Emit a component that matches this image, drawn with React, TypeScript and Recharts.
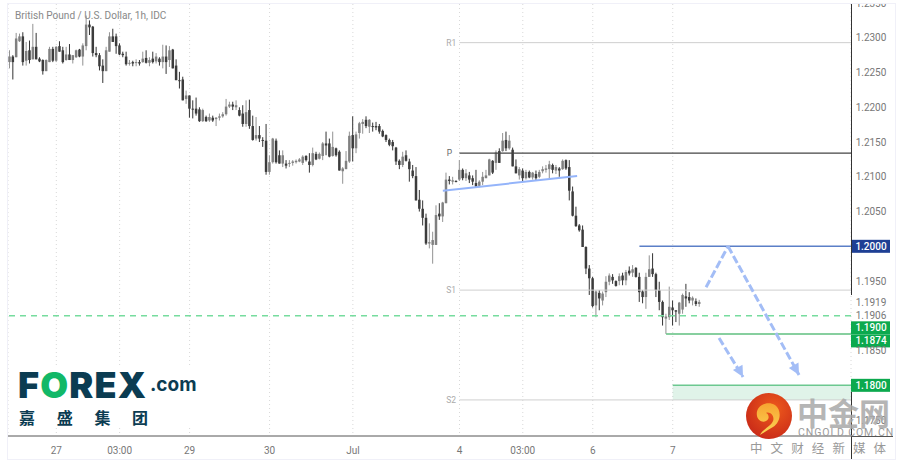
import React from "react";
import { ComposedChart, Bar, XAxis, YAxis, CartesianGrid, ReferenceLine, ReferenceArea, ReferenceDot } from "recharts";

const highs = [
  1.2282, 1.2275, 1.2307, 1.2306, 1.2308, 1.2294, 1.2296, 1.2320, 1.2307, 1.2272,
  1.2269, 1.2269, 1.2287, 1.2287, 1.2288, 1.2295, 1.2287, 1.2287, 1.2291, 1.2275,
  1.2283, 1.2284, 1.2292, 1.2332, 1.2325, 1.2317, 1.2287, 1.2278, 1.2269, 1.2287,
  1.2308, 1.2313, 1.2306, 1.2292, 1.2280, 1.2280, 1.2268, 1.2267, 1.2269, 1.2268,
  1.2280, 1.2282, 1.2272, 1.2280, 1.2278, 1.2272, 1.2290, 1.2289, 1.2288, 1.2284,
  1.2269, 1.2251, 1.2244, 1.2224, 1.2217, 1.2210, 1.2214, 1.2200, 1.2198, 1.2188,
  1.2191, 1.2188, 1.2186, 1.2191, 1.2193, 1.2212, 1.2208, 1.2208, 1.2210, 1.2200,
  1.2203, 1.2210, 1.2211, 1.2188, 1.2186, 1.2173, 1.2157, 1.2176, 1.2131, 1.2156,
  1.2155, 1.2138, 1.2138, 1.2124, 1.2124, 1.2124, 1.2125, 1.2127, 1.2131, 1.2131,
  1.2134, 1.2142, 1.2136, 1.2135, 1.2150, 1.2165, 1.2155, 1.2165, 1.2142, 1.2138,
  1.2114, 1.2137, 1.2165, 1.2187, 1.2165, 1.2179, 1.2183, 1.2187, 1.2183, 1.2178,
  1.2179, 1.2176, 1.2168, 1.2161, 1.2155, 1.2153, 1.2143, 1.2125, 1.2136, 1.2138,
  1.2126, 1.2117, 1.2114, 1.2081, 1.2066, 1.2047, 1.2033, 1.2021, 1.2059, 1.2062,
  1.2064, 1.2106, 1.2101, 1.2100, 1.2095, 1.2124, 1.2112, 1.2111, 1.2107, 1.2102,
  1.2110, 1.2095, 1.2107, 1.2110, 1.2126, 1.2124, 1.2138, 1.2141, 1.2163, 1.2165,
  1.2160, 1.2142, 1.2125, 1.2114, 1.2112, 1.2110, 1.2109, 1.2107, 1.2109, 1.2110,
  1.2115, 1.2117, 1.2123, 1.2119, 1.2117, 1.2114, 1.2125, 1.2125, 1.2124, 1.2086,
  1.2057, 1.2032, 1.2030, 1.2000, 1.1973, 1.1956, 1.1937, 1.1937, 1.1935, 1.1957,
  1.1961, 1.1960, 1.1951, 1.1961, 1.1962, 1.1966, 1.1971, 1.1973, 1.1970, 1.1962,
  1.1937, 1.1962, 1.1987, 1.1990, 1.1962, 1.1949, 1.1922, 1.1903, 1.1942, 1.1922,
  1.1908, 1.1920, 1.1932, 1.1946, 1.1934, 1.1928, 1.1925, 1.1923,
];

const lows = [
  1.2256, 1.2240, 1.2272, 1.2294, 1.2260, 1.2260, 1.2263, 1.2269, 1.2269, 1.2265,
  1.2247, 1.2252, 1.2265, 1.2265, 1.2265, 1.2280, 1.2263, 1.2267, 1.2268, 1.2263,
  1.2271, 1.2272, 1.2260, 1.2282, 1.2304, 1.2273, 1.2272, 1.2253, 1.2235, 1.2252,
  1.2280, 1.2294, 1.2277, 1.2275, 1.2272, 1.2260, 1.2260, 1.2259, 1.2259, 1.2260,
  1.2264, 1.2263, 1.2259, 1.2263, 1.2263, 1.2260, 1.2256, 1.2248, 1.2258, 1.2256,
  1.2239, 1.2227, 1.2210, 1.2205, 1.2185, 1.2184, 1.2188, 1.2179, 1.2179, 1.2179,
  1.2179, 1.2179, 1.2173, 1.2181, 1.2185, 1.2188, 1.2199, 1.2196, 1.2196, 1.2187,
  1.2172, 1.2172, 1.2169, 1.2152, 1.2152, 1.2150, 1.2143, 1.2103, 1.2103, 1.2119,
  1.2119, 1.2119, 1.2114, 1.2112, 1.2114, 1.2116, 1.2119, 1.2121, 1.2117, 1.2122,
  1.2106, 1.2115, 1.2124, 1.2125, 1.2124, 1.2131, 1.2128, 1.2129, 1.2129, 1.2109,
  1.2090, 1.2111, 1.2120, 1.2122, 1.2134, 1.2155, 1.2162, 1.2170, 1.2163, 1.2165,
  1.2167, 1.2162, 1.2157, 1.2150, 1.2144, 1.2138, 1.2117, 1.2111, 1.2114, 1.2122,
  1.2093, 1.2098, 1.2066, 1.2050, 1.2030, 1.2002, 1.1997, 1.1975, 1.2002, 1.2038,
  1.2035, 1.2062, 1.2089, 1.2089, 1.2092, 1.2094, 1.2095, 1.2094, 1.2091, 1.2088,
  1.2085, 1.2085, 1.2088, 1.2098, 1.2102, 1.2104, 1.2110, 1.2120, 1.2136, 1.2137,
  1.2139, 1.2115, 1.2105, 1.2096, 1.2094, 1.2096, 1.2098, 1.2096, 1.2095, 1.2098,
  1.2105, 1.2106, 1.2098, 1.2105, 1.2104, 1.2100, 1.2110, 1.2110, 1.2066, 1.2043,
  1.2028, 1.2021, 1.1999, 1.1960, 1.1930, 1.1912, 1.1898, 1.1908, 1.1915, 1.1927,
  1.1944, 1.1946, 1.1942, 1.1944, 1.1944, 1.1944, 1.1958, 1.1956, 1.1955, 1.1920,
  1.1918, 1.1910, 1.1956, 1.1956, 1.1927, 1.1908, 1.1886, 1.1874, 1.1894, 1.1886,
  1.1891, 1.1886, 1.1903, 1.1913, 1.1918, 1.1915, 1.1914, 1.1913,
];

const opens = [
  1.2265, 1.2273, 1.2272, 1.2295, 1.2302, 1.2267, 1.2282, 1.2269, 1.2287, 1.2270,
  1.2268, 1.2252, 1.2265, 1.2284, 1.2267, 1.2288, 1.2282, 1.2268, 1.2276, 1.2268,
  1.2272, 1.2283, 1.2273, 1.2288, 1.2319, 1.2316, 1.2278, 1.2275, 1.2260, 1.2252,
  1.2280, 1.2302, 1.2302, 1.2289, 1.2277, 1.2273, 1.2263, 1.2265, 1.2264, 1.2265,
  1.2265, 1.2271, 1.2264, 1.2270, 1.2266, 1.2270, 1.2265, 1.2273, 1.2268, 1.2283,
  1.2260, 1.2239, 1.2240, 1.2212, 1.2217, 1.2198, 1.2198, 1.2197, 1.2180, 1.2186,
  1.2181, 1.2185, 1.2183, 1.2185, 1.2187, 1.2190, 1.2201, 1.2204, 1.2200, 1.2196,
  1.2191, 1.2176, 1.2196, 1.2173, 1.2155, 1.2160, 1.2153, 1.2152, 1.2107, 1.2121,
  1.2152, 1.2131, 1.2119, 1.2119, 1.2119, 1.2120, 1.2121, 1.2122, 1.2120, 1.2130,
  1.2122, 1.2117, 1.2133, 1.2126, 1.2130, 1.2148, 1.2148, 1.2130, 1.2141, 1.2136,
  1.2108, 1.2111, 1.2122, 1.2160, 1.2141, 1.2163, 1.2176, 1.2182, 1.2172, 1.2173,
  1.2173, 1.2173, 1.2166, 1.2160, 1.2153, 1.2150, 1.2142, 1.2123, 1.2117, 1.2131,
  1.2122, 1.2109, 1.2101, 1.2067, 1.2054, 1.2041, 1.2004, 1.2002, 1.2002, 1.2047,
  1.2043, 1.2062, 1.2096, 1.2093, 1.2094, 1.2096, 1.2110, 1.2098, 1.2102, 1.2098,
  1.2091, 1.2087, 1.2093, 1.2098, 1.2102, 1.2123, 1.2120, 1.2137, 1.2137, 1.2153,
  1.2141, 1.2139, 1.2115, 1.2102, 1.2109, 1.2098, 1.2107, 1.2099, 1.2104, 1.2100,
  1.2108, 1.2110, 1.2111, 1.2117, 1.2109, 1.2112, 1.2111, 1.2124, 1.2114, 1.2079,
  1.2044, 1.2030, 1.2024, 1.1999, 1.1968, 1.1954, 1.1915, 1.1933, 1.1922, 1.1934,
  1.1949, 1.1956, 1.1950, 1.1950, 1.1958, 1.1951, 1.1965, 1.1962, 1.1969, 1.1956,
  1.1935, 1.1927, 1.1956, 1.1968, 1.1960, 1.1937, 1.1920, 1.1896, 1.1898, 1.1912,
  1.1908, 1.1903, 1.1909, 1.1928, 1.1927, 1.1922, 1.1921, 1.1917,
];

const closes = [
  1.2273, 1.2265, 1.2299, 1.2302, 1.2265, 1.2281, 1.2268, 1.2287, 1.2269, 1.2266,
  1.2252, 1.2268, 1.2284, 1.2267, 1.2287, 1.2280, 1.2265, 1.2276, 1.2268, 1.2275,
  1.2282, 1.2273, 1.2289, 1.2319, 1.2315, 1.2278, 1.2275, 1.2259, 1.2252, 1.2282,
  1.2302, 1.2294, 1.2288, 1.2276, 1.2275, 1.2262, 1.2264, 1.2263, 1.2265, 1.2263,
  1.2270, 1.2264, 1.2268, 1.2265, 1.2273, 1.2265, 1.2273, 1.2265, 1.2282, 1.2256,
  1.2239, 1.2238, 1.2210, 1.2217, 1.2198, 1.2197, 1.2191, 1.2180, 1.2196, 1.2180,
  1.2186, 1.2181, 1.2185, 1.2187, 1.2190, 1.2201, 1.2204, 1.2201, 1.2203, 1.2188,
  1.2176, 1.2193, 1.2173, 1.2153, 1.2160, 1.2155, 1.2152, 1.2107, 1.2121, 1.2155,
  1.2121, 1.2119, 1.2131, 1.2116, 1.2120, 1.2122, 1.2123, 1.2125, 1.2129, 1.2124,
  1.2117, 1.2134, 1.2125, 1.2133, 1.2148, 1.2145, 1.2129, 1.2143, 1.2131, 1.2109,
  1.2112, 1.2123, 1.2159, 1.2141, 1.2161, 1.2177, 1.2179, 1.2173, 1.2182, 1.2172,
  1.2171, 1.2165, 1.2158, 1.2153, 1.2146, 1.2144, 1.2122, 1.2117, 1.2129, 1.2123,
  1.2111, 1.2101, 1.2066, 1.2054, 1.2041, 1.2004, 1.2006, 1.2009, 1.2045, 1.2043,
  1.2063, 1.2096, 1.2094, 1.2095, 1.2093, 1.2110, 1.2098, 1.2105, 1.2096, 1.2093,
  1.2086, 1.2093, 1.2100, 1.2102, 1.2125, 1.2106, 1.2135, 1.2120, 1.2152, 1.2141,
  1.2152, 1.2115, 1.2105, 1.2111, 1.2098, 1.2107, 1.2099, 1.2106, 1.2098, 1.2107,
  1.2111, 1.2112, 1.2118, 1.2110, 1.2114, 1.2109, 1.2123, 1.2112, 1.2080, 1.2044,
  1.2029, 1.2023, 1.1999, 1.1968, 1.1954, 1.1914, 1.1935, 1.1925, 1.1932, 1.1949,
  1.1958, 1.1951, 1.1943, 1.1957, 1.1951, 1.1963, 1.1961, 1.1967, 1.1956, 1.1934,
  1.1927, 1.1956, 1.1967, 1.1960, 1.1937, 1.1920, 1.1898, 1.1899, 1.1913, 1.1908,
  1.1906, 1.1919, 1.1930, 1.1925, 1.1922, 1.1926, 1.1917, 1.1920,
];

const timeTicks = [14, 33, 54, 78, 103, 135, 154, 175, 199];
const timeLabels = ["27", "03:00", "29", "30", "Jul", "4", "03:00", "6", "7"];
const priceTicks = [1.235, 1.23, 1.225, 1.22, 1.215, 1.21, 1.205, 1.2, 1.195, 1.1919, 1.1906, 1.19, 1.1874, 1.185, 1.18, 1.175];

const R1 = 1.2293;
const PIVOT = 1.2134;
const S1 = 1.1937;
const S2 = 1.1779;

const candles = highs.map((high, i) => ({ hour: i, high, low: lows[i], open: opens[i], close: closes[i] }));

const FONT = "Roboto, sans-serif";
const TEAL = "#0b3c52";
const ARROW = "#a3bdf6";
const GREEN_TAG = "#0ca94e";
const NAVY_TAG = "#1e3f94";

// tags stacked in the price scale, moved off their true level so they don't overlap
const tagStyle: Record<string, { fill?: string; shift: number }> = {
  "1.2000": { fill: NAVY_TAG, shift: 0 },
  "1.1906": { shift: 4 },
  "1.1900": { fill: GREEN_TAG, shift: 12 },
  "1.1874": { fill: GREEN_TAG, shift: 7 },
  "1.1800": { fill: GREEN_TAG, shift: 0 },
};

const PriceTick = ({ x, y, payload }: any) => {
  const label = Number(payload.value).toFixed(4);
  const tag = tagStyle[label];
  const cy = y + (tag ? tag.shift : 0);
  return (
    <g>
      {tag && tag.fill && <rect x={851} y={cy - 6.5} width={39} height={13} fill={tag.fill} />}
      <text x={871} y={cy + 3.5} textAnchor="middle" fontSize={10} fontFamily={FONT} fontWeight={tag && tag.fill ? 500 : 400} fill={tag && tag.fill ? "#fff" : "#777"}>
        {label}
      </text>
    </g>
  );
};

// wick spans the whole bar, the body is placed inside it from open and close
const Candle = (props: any) => {
  const { x, y, width, height, payload } = props;
  const top = Math.min(y, y + height);
  const full = Math.abs(height);
  const k = full / (payload.high - payload.low);
  const bodyTop = top + (payload.high - Math.max(payload.open, payload.close)) * k;
  const bodyH = Math.max(Math.abs(payload.open - payload.close) * k, 1);
  const up = payload.close >= payload.open;
  const cx = x + width / 2;
  return (
    <g>
      <line x1={cx} x2={cx} y1={top} y2={top + full} stroke={up ? "#929292" : "#333"} strokeWidth={1} />
      <rect x={cx - 1.25} y={bodyTop} width={2.5} height={bodyH} fill={up ? "#808080" : "#3c3c3c"} />
    </g>
  );
};

const arrowHead = (angle: number) => (props: any) => (
  <polygon points="0,0 -11,-5.5 -11,5.5" fill={ARROW} transform={`translate(${props.cx},${props.cy}) rotate(${angle})`} />
);

const pivotLabel = (value: string, fill: string) => ({ value, fill, fontSize: 8.5, fontFamily: FONT, position: "center" as const });

const Logo = () => (
  <div style={{ position: "absolute", left: 15, top: 367, width: 182, height: 61, background: "#fff", color: TEAL, fontFamily: "Inter, sans-serif" }}>
    <div style={{ position: "absolute", left: 3, top: 0, fontSize: 36, fontWeight: 900, lineHeight: "36px", letterSpacing: 1.2, whiteSpace: "nowrap" }}>
      F<span style={{ color: "#12b868" }}>O</span>REX
    </div>
    <div style={{ position: "absolute", left: 135, top: 6, fontSize: 19, fontWeight: 700, lineHeight: "24px" }}>.com</div>
    {["嘉", "盛", "集", "团"].map((c, i) => (
      <div key={c} style={{ position: "absolute", left: 4 + i * 37.7, top: 40, fontSize: 16, fontWeight: 700, lineHeight: "20px", fontFamily: "'Noto Sans CJK SC'" }}>
        {c}
      </div>
    ))}
  </div>
);

const Watermark = () => (
  <>
    <svg style={{ position: "absolute", left: 745, top: 392 }} width={48} height={48}>
      <defs>
        <radialGradient id="wm" cx="60%" cy="35%" r="70%">
          <stop offset="0%" stopColor="#ee5a1c" />
          <stop offset="100%" stopColor="#c92a18" />
        </radialGradient>
        <linearGradient id="sw" x1="0" y1="0" x2="0" y2="1">
          <stop offset="0%" stopColor="#f7a431" />
          <stop offset="100%" stopColor="#fbd555" />
        </linearGradient>
      </defs>
      <circle cx={24} cy={24} r={23} fill="url(#wm)" />
      <path d="M12 24 C10 14 22 8 30 13 C37 18 36 30 28 35 C23 38 18 41 15 43 C18 37 26 34 28 29 C30 24 25 19 21 21 C24 22 25 27 21 29 C17 31 13 28 12 24 Z" fill="url(#sw)" />
    </svg>
    <div style={{ position: "absolute", left: 797, top: 392, fontSize: 31, fontWeight: 700, color: "#a9a9a9", opacity: 0.85, letterSpacing: 0, lineHeight: "40px", fontFamily: "'Noto Sans CJK SC'", whiteSpace: "nowrap" }}>
      中金网
    </div>
    <div style={{ position: "absolute", left: 798, top: 427, fontSize: 10.5, color: "#9a9a9a", lineHeight: "12px", fontFamily: FONT, whiteSpace: "nowrap", letterSpacing: 0.95 }}>
      CNGOLD.COM.CN
    </div>
    {["中", "文", "财", "经", "新", "媒", "体"].map((c, i) => (
      <div key={i} style={{ position: "absolute", left: 750 + i * 20.6, top: 440, fontSize: 12.5, color: "#999", lineHeight: "15px", fontFamily: "'Noto Sans CJK SC'" }}>
        {c}
      </div>
    ))}
  </>
);

export default function App() {
  return (
    <div style={{ position: "absolute", left: 0, top: 0, width: 903, height: 465, background: "#fff", overflow: "hidden" }}>
      <ComposedChart width={903} height={465} data={candles} margin={{ top: 4, right: 8, bottom: 6, left: 8 }} barCategoryGap={0}>
        <CartesianGrid vertical horizontal={false} stroke="#d8d8d8" strokeDasharray="1 3" />
        <XAxis
          dataKey="hour"
          type="number"
          domain={[-0.5, 252.5]}
          ticks={timeTicks}
          interval={0}
          height={23}
          allowDataOverflow
          tickLine={false}
          tickMargin={5}
          axisLine={{ stroke: "#555" }}
          tick={{ fontSize: 10, fill: "#777", fontFamily: FONT }}
          tickFormatter={(v: number) => timeLabels[timeTicks.indexOf(v)]}
        />
        <YAxis
          orientation="right"
          width={44}
          domain={[1.17271, 1.23486]}
          allowDataOverflow
          ticks={priceTicks}
          interval={0}
          axisLine={false}
          tickLine={false}
          tick={<PriceTick />}
        />
        <ReferenceArea x1={199} x2={252.5} y1={S2} y2={1.18} fill="#2fae6e" fillOpacity={0.15} stroke="none" />
        <ReferenceLine y={1.19} stroke="#76dc9e" strokeWidth={1.6} strokeDasharray="6 5" />
        <ReferenceLine segment={[{ x: 135, y: R1 }, { x: 252.5, y: R1 }]} stroke="#cfcfcf" />
        <ReferenceLine segment={[{ x: 135, y: PIVOT }, { x: 252.5, y: PIVOT }]} stroke="#444" strokeWidth={1.2} />
        <ReferenceLine segment={[{ x: 135, y: S1 }, { x: 252.5, y: S1 }]} stroke="#cfcfcf" />
        <ReferenceLine segment={[{ x: 135, y: S2 }, { x: 252.5, y: S2 }]} stroke="#cfcfcf" />
        <ReferenceDot x={132.5} y={R1} r={0} label={pivotLabel("R1", "#aaa")} />
        <ReferenceDot x={132} y={PIVOT} r={0} label={pivotLabel("P", "#666")} />
        <ReferenceDot x={132.5} y={S1} r={0} label={pivotLabel("S1", "#aaa")} />
        <ReferenceDot x={132.5} y={S2} r={0} label={pivotLabel("S2", "#aaa")} />
        <Bar dataKey={(d: any) => [d.low, d.high]} barSize={3} shape={<Candle />} isAnimationActive={false} />
        <ReferenceLine segment={[{ x: 130, y: 1.208 }, { x: 170.3, y: 1.2101 }]} stroke="#94b4fa" strokeWidth={2} />
        <ReferenceLine segment={[{ x: 189, y: 1.2 }, { x: 252.5, y: 1.2 }]} stroke="#5b7fc7" strokeWidth={1.5} />
        <ReferenceLine segment={[{ x: 197, y: 1.1874 }, { x: 252.5, y: 1.1874 }]} stroke="#5fbf7f" strokeWidth={1.5} />
        <ReferenceLine segment={[{ x: 199, y: 1.18 }, { x: 252.5, y: 1.18 }]} stroke="#6cc890" strokeWidth={1.5} />
        <ReferenceLine segment={[{ x: 209, y: 1.1941 }, { x: 215.6, y: 1.2 }]} stroke={ARROW} strokeWidth={3} strokeDasharray="8 3" />
        <ReferenceLine segment={[{ x: 215.6, y: 1.2 }, { x: 236.9, y: 1.1815 }]} stroke={ARROW} strokeWidth={3} strokeDasharray="8 3" />
        <ReferenceLine segment={[{ x: 212.9, y: 1.1868 }, { x: 220.1, y: 1.1812 }]} stroke={ARROW} strokeWidth={3} strokeDasharray="8 3" />
        <ReferenceDot x={236.9} y={1.1815} shape={arrowHead(61)} />
        <ReferenceDot x={220.1} y={1.1812} shape={arrowHead(61)} />
      </ComposedChart>

      {/* panel frame and the bits of axis the library can't extend */}
      <div style={{ position: "absolute", left: 0, top: 0, width: 903, height: 3, background: "#fff" }} />
      <div style={{ position: "absolute", left: 7, top: 3, width: 887, height: 455, border: "1.5px solid #f0f0f8", pointerEvents: "none" }} />
      <div style={{ position: "absolute", left: 851, top: 4, width: 1, height: 291, background: "#333" }} />
      <div style={{ position: "absolute", left: 851, top: 392, width: 1, height: 67, background: "#333" }} />
      <div style={{ position: "absolute", left: 851, top: 436, width: 42, height: 1, background: "#555" }} />
      <div style={{ position: "absolute", left: 15, top: 9, fontSize: 10.1, color: "#888", fontFamily: FONT, lineHeight: "14px", whiteSpace: "nowrap" }}>
        British Pound / U.S. Dollar, 1h, IDC
      </div>
      <Logo />
      <Watermark />
    </div>
  );
}
